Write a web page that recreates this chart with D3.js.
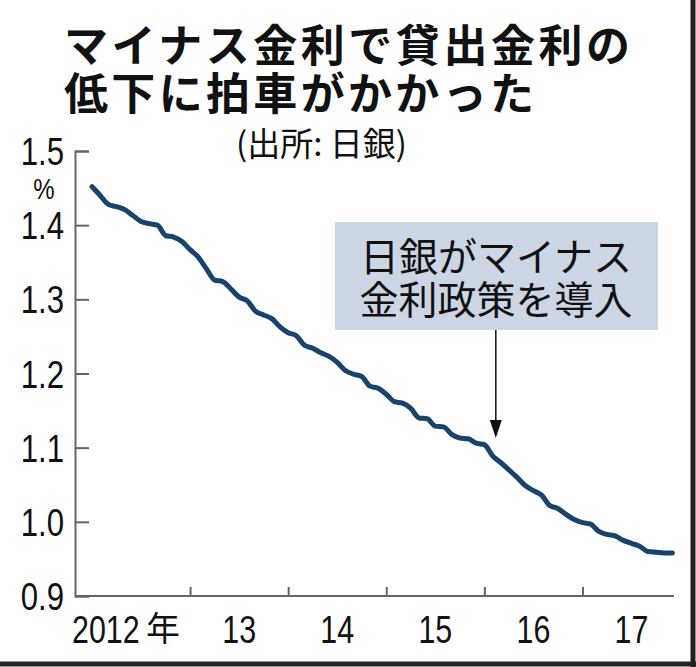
<!DOCTYPE html>
<html><head><meta charset="utf-8">
<script src="https://cdn.jsdelivr.net/npm/d3@7"></script>
<style>body{margin:0;background:#fff}</style></head>
<body><svg id="c" width="696" height="667"></svg>
<script>
const rates=[1.452,1.440,1.428,1.425,1.421,1.413,1.405,1.402,1.400,1.386,1.384,1.378,
1.367,1.357,1.341,1.326,1.324,1.314,1.303,1.298,1.284,1.279,1.274,1.263,
1.255,1.251,1.238,1.234,1.228,1.223,1.215,1.204,1.199,1.196,1.183,1.180,
1.172,1.162,1.160,1.153,1.140,1.139,1.129,1.128,1.118,1.113,1.112,1.106,
1.104,1.089,1.080,1.070,1.060,1.049,1.042,1.036,1.022,1.018,1.010,1.003,
0.999,0.997,0.987,0.983,0.981,0.975,0.971,0.967,0.960,0.959,0.958,0.958];
const yTicks=[0.9,1.0,1.1,1.2,1.3,1.4,1.5];
const yearLabels=["2012年","13","14","15","16","17"];
const yearStarts=[12,24,36,48,60];
const svg=d3.select("#c");
const x=d3.scaleLinear().domain([0,71.2]).range([92,674]);
const y=d3.scaleLinear().domain([0.9,1.5]).range([596,151]);
const jp='"Noto Sans CJK JP",sans-serif', num='"Liberation Sans",Arial,sans-serif';
function ntext(px,py,s,anchor,fs){
  return svg.append("text").attr("transform",`translate(${px},${py}) scale(0.8,1)`).attr("text-anchor",anchor)
   .attr("font-family",num).attr("font-size",fs).attr("fill","#111").text(s);
}
// titles
svg.append("text").attr("x",64).attr("y",62).attr("font-family",jp).attr("font-weight",700).attr("font-size",44).attr("textLength",566).attr("fill","#111").text("マイナス金利で貸出金利の");
svg.append("text").attr("x",64).attr("y",110).attr("font-family",jp).attr("font-weight",700).attr("font-size",44).attr("textLength",470).attr("fill","#111").text("低下に拍車がかかった");
svg.append("text").attr("x",236).attr("y",156).attr("font-family",jp).attr("font-size",33).attr("fill","#111").text("(出所: 日銀)");
// y axis
const ya=svg.append("g").attr("transform","translate(75,0)").call(d3.axisRight(y).tickValues(yTicks).tickSize(14).tickFormat(""));
ya.select(".domain").attr("stroke","#666").attr("stroke-width",2);
ya.selectAll(".tick line").attr("stroke","#666").attr("stroke-width",2);
yTicks.forEach(d=>ntext(64,y(d)+14,d.toFixed(1),"end",39));
ntext(44,199,"%","middle",30);
// x axis
const xa=svg.append("g").attr("transform","translate(0,596)").call(d3.axisTop(x).tickValues(yearStarts).tickSize(9).tickFormat(""));
xa.select(".domain").remove();
svg.append("line").attr("x1",75).attr("x2",674).attr("y1",596).attr("y2",596).attr("stroke","#666").attr("stroke-width",2);
xa.selectAll(".tick line").attr("stroke","#666").attr("stroke-width",2);
yearLabels.forEach((d,i)=>{
  if(i==0){ ntext(72,643,"2012","start",38);
    svg.append("text").attr("x",146).attr("y",641).attr("font-family",jp).attr("font-size",34).attr("fill","#111").text("年");}
  else ntext(x(i*12+6),643,d,"middle",38);
});
// line
svg.append("path").datum(rates).attr("fill","none").attr("stroke","#17436d").attr("stroke-width",5).attr("stroke-linejoin","round").attr("stroke-linecap","round")
 .attr("d",d3.line().x((d,i)=>x(i)).y(d=>y(d)).curve(d3.curveMonotoneX));
// annotation
svg.append("rect").attr("x",335).attr("y",222).attr("width",323).attr("height",108).attr("fill","#cbd5e4");
svg.append("text").attr("x",496).attr("y",271).attr("text-anchor","middle").attr("font-family",jp).attr("font-size",39).attr("fill","#111").text("日銀がマイナス");
svg.append("text").attr("x",496).attr("y",314).attr("text-anchor","middle").attr("font-family",jp).attr("font-size",39).attr("fill","#111").text("金利政策を導入");
svg.append("line").attr("x1",x(49.4)).attr("x2",x(49.4)).attr("y1",330).attr("y2",425).attr("stroke","#111").attr("stroke-width",1.5);
svg.append("path").attr("d",`M${x(49.4)-6},420 L${x(49.4)+6},420 L${x(49.4)},438 Z`).attr("fill","#111");
// frame
svg.append("line").attr("x1",0).attr("x2",696).attr("y1",664).attr("y2",664).attr("stroke","#222").attr("stroke-width",5);
svg.append("line").attr("x1",693).attr("x2",693).attr("y1",0).attr("y2",667).attr("stroke","#222").attr("stroke-width",5);
</script></body></html>
